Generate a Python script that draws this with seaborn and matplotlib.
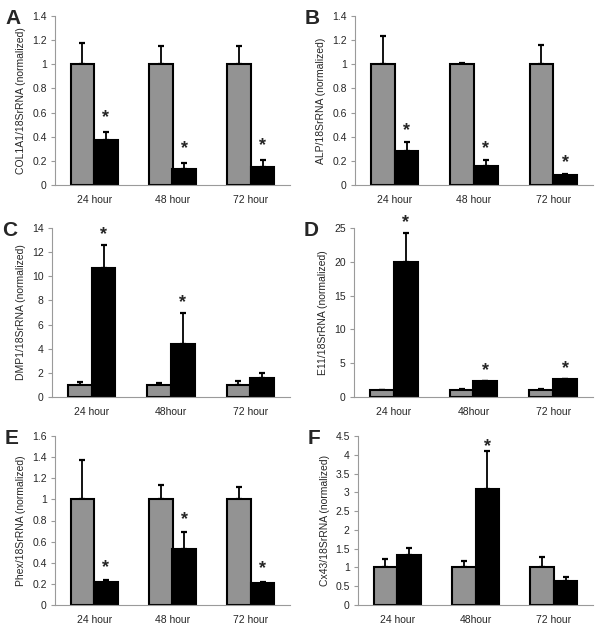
"""
Six-panel qPCR bar chart: control (gray) vs treated (black), normalized to 18S rRNA.
Writes out.png.
"""
import numpy as np
import pandas as pd
import matplotlib
matplotlib.use("Agg")
import matplotlib.pyplot as plt
from matplotlib.ticker import FuncFormatter, FixedLocator
import seaborn as sns

GROUPS = ["Control", "Treated"]
TIMES_A = ["24 hour", "48 hour", "72 hour"]
TIMES_B = ["24 hour", "48hour", "72 hour"]

# panel A - COL1A1
col1a1_ctrl = [1.0, 1.0, 1.0]
col1a1_ctrl_err = [0.18, 0.15, 0.15]
col1a1_trt = [0.37, 0.13, 0.145]
col1a1_trt_err = [0.07, 0.05, 0.06]

# panel B - ALP
alp_ctrl = [1.0, 1.0, 1.0]
alp_ctrl_err = [0.235, 0.01, 0.16]
alp_trt = [0.28, 0.155, 0.085]
alp_trt_err = [0.08, 0.055, 0.006]

# panel C - DMP1
dmp1_ctrl = [1.0, 1.0, 1.0]
dmp1_ctrl_err = [0.25, 0.2, 0.3]
dmp1_trt = [10.7, 4.4, 1.55]
dmp1_trt_err = [1.9, 2.6, 0.4]

# panel D - E11
e11_ctrl = [1.0, 1.0, 1.0]
e11_ctrl_err = [0.05, 0.12, 0.12]
e11_trt = [20.0, 2.3, 2.6]
e11_trt_err = [4.3, 0.1, 0.1]

# panel E - Phex
phex_ctrl = [1.0, 1.0, 1.0]
phex_ctrl_err = [0.37, 0.14, 0.12]
phex_trt = [0.22, 0.53, 0.205]
phex_trt_err = [0.015, 0.16, 0.015]

# panel F - Cx43
cx43_ctrl = [1.0, 1.0, 1.0]
cx43_ctrl_err = [0.23, 0.18, 0.27]
cx43_trt = [1.33, 3.1, 0.63]
cx43_trt_err = [0.2, 1.0, 0.12]

PANELS = [
    ("A", "COL1A1/18SrRNA (normalized)", TIMES_A, col1a1_ctrl, col1a1_ctrl_err,
     col1a1_trt, col1a1_trt_err, [True, True, True], 1.4, 0.2),
    ("B", "ALP/18SrRNA (normalized)", TIMES_A, alp_ctrl, alp_ctrl_err,
     alp_trt, alp_trt_err, [True, True, True], 1.4, 0.2),
    ("C", "DMP1/18SrRNA (normalized)", TIMES_B, dmp1_ctrl, dmp1_ctrl_err,
     dmp1_trt, dmp1_trt_err, [True, True, False], 14, 2),
    ("D", "E11/18SrRNA (normalized)", TIMES_B, e11_ctrl, e11_ctrl_err,
     e11_trt, e11_trt_err, [True, True, True], 25, 5),
    ("E", "Phex/18SrRNA (normalized)", TIMES_A, phex_ctrl, phex_ctrl_err,
     phex_trt, phex_trt_err, [True, True, True], 1.6, 0.2),
    ("F", "Cx43/18SrRNA (normalized)", TIMES_B, cx43_ctrl, cx43_ctrl_err,
     cx43_trt, cx43_trt_err, [False, True, False], 4.5, 0.5),
]

W, H = 601, 630
# axes boxes in pixels: left, top, right, bottom
BOXES = [
    (55, 16, 290, 185), (355, 16, 593, 185),
    (52, 228, 290, 397), (354, 228, 593, 397),
    (55, 436, 290, 605), (358, 436, 593, 605),
]
STAR_PAD = [7, 5, 4, 4, 6, 0]  # points above the error cap
SPINE = "#9a9a9a"


def main():
    sns.set_style("white")
    plt.rcParams["font.family"] = ["Liberation Sans", "DejaVu Sans"]

    fig = plt.figure(figsize=(W / 100, H / 100), dpi=100)

    for (letter, ylabel, times, c, ce, t, te, stars, ymax, step), box, pad in zip(
            PANELS, BOXES, STAR_PAD):
        l, tp, r, b = box
        ax = fig.add_axes([l / W, 1 - b / H, (r - l) / W, (b - tp) / H])

        df = pd.DataFrame({
            "time": times * 2,
            "group": [GROUPS[0]] * 3 + [GROUPS[1]] * 3,
            "value": c + t,
        })
        sns.barplot(data=df, x="time", y="value", hue="group", order=times,
                    hue_order=GROUPS, palette=["#939393", "#000000"],
                    width=0.6, gap=0, errorbar=None, edgecolor="black",
                    linewidth=1.5, legend=False, ax=ax, zorder=2)

        for cont, errs, flag in zip(ax.containers, [ce, te], [None, stars]):
            xs = [p.get_x() + p.get_width() / 2 for p in cont]
            hs = [p.get_height() for p in cont]
            ax.errorbar(xs, hs, yerr=[np.zeros(len(errs)), errs], fmt="none",
                        ecolor="black", elinewidth=1.3, capsize=2.2,
                        capthick=1.6, zorder=1)
            if flag is not None:
                for x, h, e, s in zip(xs, hs, errs, flag):
                    if s:
                        ax.annotate("*", (x, h + e), xytext=(0, pad),
                                    textcoords="offset points", ha="center",
                                    va="baseline", fontsize=13,
                                    fontweight="bold")

        ax.set_ylim(0, ymax)
        ax.set_xlim(-0.5, 2.5)
        ax.yaxis.set_major_locator(FixedLocator(np.arange(0, ymax + step / 2, step)))
        ax.yaxis.set_major_formatter(FuncFormatter(lambda v, p: f"{v:g}"))
        ax.xaxis.set_minor_locator(FixedLocator([0.5, 1.5, 2.5]))
        ax.tick_params(axis="x", which="major", length=0, labelsize=7.5, pad=7)
        ax.tick_params(axis="x", which="minor", length=3, color=SPINE, width=0.8)
        ax.tick_params(axis="y", length=3, color=SPINE, width=0.8, labelsize=7.5,
                       pad=3, left=True)
        ax.set_xlabel("")
        ax.set_ylabel(ylabel, fontsize=7.5, labelpad=4)
        for side in ["top", "right"]:
            ax.spines[side].set_visible(False)
        for side in ["left", "bottom"]:
            ax.spines[side].set_color(SPINE)
            ax.spines[side].set_linewidth(0.8)

        fig.text((l - 50) / W, 1 - (tp - 7) / H, letter, fontsize=15,
                 fontweight="bold", va="top", ha="left")

    fig.savefig("out.png", dpi=100)
    plt.close(fig)


if __name__ == "__main__":
    main()
